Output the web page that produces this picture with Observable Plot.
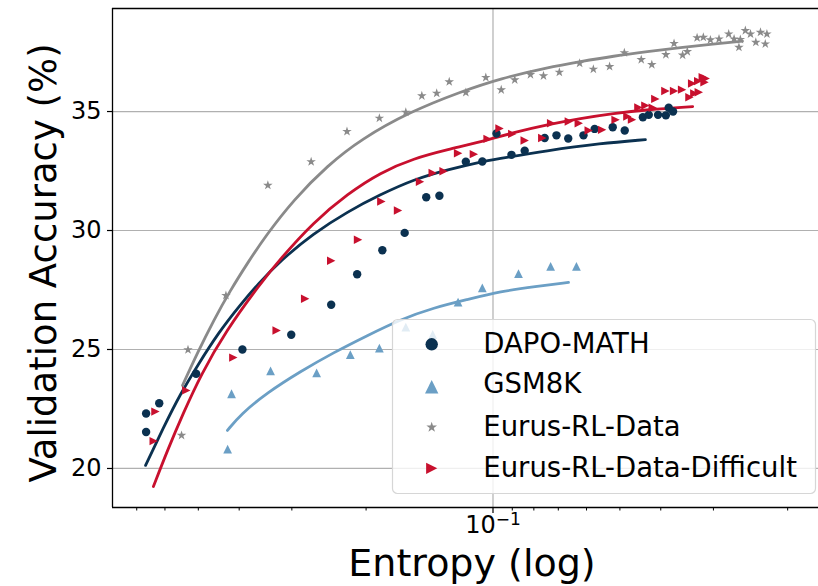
<!DOCTYPE html>
<html><head><meta charset="utf-8">
<script src="https://cdn.jsdelivr.net/npm/d3@7"></script>
<script src="https://cdn.jsdelivr.net/npm/@observablehq/plot@0.6"></script>
<style>
html,body{margin:0;padding:0;background:#fff;}
#chart{width:818px;height:586px;overflow:hidden;}
</style></head><body><div id="chart"></div>
<script>
// ---------- data ----------
const seriesNames = ["DAPO-MATH", "GSM8K", "Eurus-RL-Data", "Eurus-RL-Data-Difficult"];
const seriesColors = ["#0b3150", "#6b9fc5", "#8a8a8a", "#c8102e"];

const dapoX = [0.665,0.665,0.619,0.506,0.393,0.301,0.242,0.210,0.183,0.162,0.144,0.134,0.116,0.106,0.0981,0.0904,0.0841,0.0754,0.0707,0.0663,0.0610,0.0574,0.0520,0.0487,0.0441,0.0427,0.0406,0.0389,0.0383,0.0374];
const dapoY = [21.53,22.31,22.74,23.98,25.00,25.62,26.88,28.16,29.17,29.90,31.40,31.46,32.89,32.90,34.08,33.18,33.35,33.89,34.00,33.87,34.00,34.27,34.34,34.20,34.76,34.86,34.86,34.84,35.16,35.00];

const gsmX = [0.426,0.417,0.337,0.262,0.218,0.186,0.161,0.139,0.121,0.106,0.087,0.0730,0.0634];
const gsmY = [20.81,23.14,24.10,24.02,24.78,25.06,25.94,25.63,26.99,27.59,28.19,28.49,28.49];

const eurusX = [0.548,0.529,0.430,0.342,0.270,0.222,0.186,0.161,0.1475,0.136,0.127,0.116,0.104,0.0956,0.0888,0.0815,0.0759,0.0696,0.0623,0.0578,0.0529,0.0488,0.0445,0.0420,0.0389,0.0372,0.0355,0.0346,0.0328,0.0317,0.0305,0.0291,0.0276,0.0268,0.0261,0.0259,0.0252,0.0245,0.0238,0.0232,0.0226,0.0224];
const eurusY = [21.39,24.99,27.27,31.90,32.89,34.16,34.72,34.97,35.66,35.77,36.25,35.80,36.43,35.91,36.33,36.55,36.50,36.65,37.03,36.78,36.89,37.47,37.18,36.97,37.39,37.86,37.37,37.52,38.10,38.12,38.01,38.05,38.26,38.05,37.70,38.03,38.40,38.26,37.91,38.33,37.84,38.26];

const diffX = [0.638,0.632,0.534,0.413,0.326,0.279,0.242,0.209,0.184,0.168,0.149,0.139,0.131,0.121,0.111,0.103,0.0965,0.0900,0.0841,0.0764,0.0728,0.0661,0.0626,0.0593,0.0551,0.0512,0.0480,0.0468,0.0452,0.0435,0.0418,0.0412,0.0390,0.0372,0.0356,0.0342,0.0333,0.0325,0.0337,0.0326,0.0318,0.0315,0.0313];
const diffY = [21.15,22.39,23.28,24.66,25.80,27.13,28.73,29.61,31.22,30.84,32.05,32.42,32.49,33.25,33.21,33.85,34.29,34.06,33.78,33.89,34.51,34.58,34.51,34.20,34.23,34.65,34.79,34.66,35.17,35.25,35.16,35.53,35.86,35.86,35.92,35.60,35.76,35.81,36.18,36.28,36.44,36.23,36.39];

// fitted curves
const dapoFitX = [0.667,0.605,0.551,0.502,0.448,0.397,0.362,0.319,0.267,0.221,0.185,0.154,0.128,0.106,0.0997,0.0742,0.0556,0.0435];
const dapoFitY = [20.13,21.72,23.15,24.33,25.71,26.89,27.73,28.74,29.87,30.80,31.51,32.15,32.56,32.90,32.98,33.36,33.66,33.82];
const gsmFitX = [0.4265,0.397,0.343,0.286,0.239,0.1985,0.166,0.138,0.115,0.0960,0.0793,0.0662];
const gsmFitY = [21.60,22.27,23.19,24.08,24.87,25.59,26.26,26.76,27.10,27.44,27.65,27.82];
const eurusFitX = [0.545,0.502,0.460,0.420,0.380,0.347,0.297,0.247,0.206,0.157,0.119,0.0960,0.0742,0.0620,0.0518,0.0430,0.0359,0.0300,0.0256];
const eurusFitY = [23.49,24.87,26.22,27.48,28.70,29.75,31.30,32.73,33.83,35.00,35.84,36.39,36.85,37.10,37.33,37.52,37.69,37.84,37.96];
const diffFitX = [0.639,0.592,0.542,0.494,0.431,0.356,0.319,0.267,0.221,0.185,0.154,0.128,0.106,0.0894,0.0742,0.0620,0.0518,0.0430,0.0336];
const diffFitY = [19.24,20.76,22.35,23.91,25.76,27.78,28.82,30.34,31.55,32.44,33.03,33.40,33.74,34.12,34.45,34.71,34.92,35.08,35.21];

const xMajorTicks = [0.1];
const xMajorLabels = [["10", "\u22121"]]; // base, exponent
const xMinorTicks = [0.7,0.6,0.5,0.4,0.3,0.2,0.09,0.08,0.07,0.06,0.05,0.04,0.03,0.02];
const yTicks = [20, 25, 30, 35];
const xDomain = [0.799, 0.0169];
const yDomain = [18.36, 39.33];

// ---------- build ----------
const zip = (xs, ys) => xs.map((x, i) => ({x, y: ys[i]}));
const dapo = zip(dapoX, dapoY), gsm = zip(gsmX, gsmY), eurus = zip(eurusX, eurusY), diff = zip(diffX, diffY);
const dapoFit = zip(dapoFitX, dapoFitY), gsmFit = zip(gsmFitX, gsmFitY), eurusFit = zip(eurusFitX, eurusFitY), diffFit = zip(diffFitX, diffFitY);

const triUp = {draw(ctx, size) { const h = Math.sqrt(size / 2); ctx.moveTo(0, -h); ctx.lineTo(h, h); ctx.lineTo(-h, h); ctx.closePath(); }};
const triRight = {draw(ctx, size) { const h = Math.sqrt(size / 2); ctx.moveTo(h, 0); ctx.lineTo(-h, h); ctx.lineTo(-h, -h); ctx.closePath(); }};
const symbols = [d3.symbolCircle, triUp, d3.symbolStar, triRight];

const FONT = "DejaVu Sans";
const lineW = 2.8;
const curve = "basis";

const plot = Plot.plot({
  width: 818, height: 586,
  marginLeft: 112, marginRight: 0, marginTop: 8, marginBottom: 79,
  style: {fontFamily: FONT, fontSize: "24px", color: "#000", background: "#fff"},
  x: {type: "log", domain: xDomain},
  y: {domain: yDomain},
  marks: [
    Plot.gridY(yTicks, {stroke: "#b0b0b0", strokeOpacity: 1, strokeWidth: 1.2}),
    Plot.gridX(xMajorTicks, {stroke: "#b0b0b0", strokeOpacity: 1, strokeWidth: 1.2}),
    Plot.line(dapoFit, {x: "x", y: "y", stroke: seriesColors[0], strokeWidth: lineW, curve}),
    Plot.line(gsmFit, {x: "x", y: "y", stroke: seriesColors[1], strokeWidth: lineW, curve}),
    Plot.line(eurusFit, {x: "x", y: "y", stroke: seriesColors[2], strokeWidth: lineW, curve}),
    Plot.line(diffFit, {x: "x", y: "y", stroke: seriesColors[3], strokeWidth: lineW, curve}),
    Plot.dot(dapo, {x: "x", y: "y", r: 4.2, fill: seriesColors[0], symbol: symbols[0]}),
    Plot.dot(gsm, {x: "x", y: "y", r: 3.5, fill: seriesColors[1], symbol: symbols[1]}),
    Plot.dot(eurus, {x: "x", y: "y", r: 3.0, fill: seriesColors[2], symbol: symbols[2]}),
    Plot.dot(diff, {x: "x", y: "y", r: 3.35, fill: seriesColors[3], symbol: symbols[3]}),
    Plot.ruleY([yDomain[1]], {stroke: "#000", strokeWidth: 1.3}),
    Plot.ruleY([yDomain[0]], {stroke: "#000", strokeWidth: 1.3}),
    Plot.ruleX([xDomain[0]], {stroke: "#000", strokeWidth: 1.3}),
    Plot.axisY(yTicks, {tickSize: 5, tickPadding: 6, label: null, fontSize: 24, strokeWidth: 1.2}),
    Plot.axisX(xMajorTicks, {tickSize: 6, tickPadding: 2, label: null, fontSize: 24, strokeWidth: 1.2,
      tickFormat: (d) => "MAJOR" + xMajorTicks.indexOf(d)}),
    Plot.axisX(xMinorTicks, {tickSize: 3.5, label: null, strokeWidth: 1, tickFormat: () => ""})
  ]
});

document.getElementById("chart").appendChild(plot);
const svg = d3.select(plot);

// superscript exponent labels for the major x ticks
svg.selectAll("text").each(function() {
  const t = d3.select(this);
  const s = t.text();
  if (s.startsWith("MAJOR")) {
    const [base, exp] = xMajorLabels[+s.slice(5)];
    t.text("");
    t.append("tspan").text(base);
    t.append("tspan").attr("dy", "-0.45em").style("font-size", "17px").text(exp);
  }
});

// axis titles
svg.append("text").attr("x", 472).attr("y", 576).attr("text-anchor", "middle")
  .attr("fill", "#000").style("font-family", FONT).style("font-size", "38px").text("Entropy (log)");
svg.append("text").attr("transform", "translate(56,263) rotate(-90)").attr("text-anchor", "middle")
  .attr("fill", "#000").style("font-family", FONT).style("font-size", "37px").text("Validation Accuracy (%)");

// legend
const lg = svg.append("g");
lg.append("rect").attr("x", 392.5).attr("y", 319.5).attr("width", 423).attr("height", 174).attr("rx", 5)
  .attr("fill", "#fff").attr("fill-opacity", 0.8).attr("stroke", "#d6d6d6").attr("stroke-width", 1.2);
const legendSizes = [Math.PI * 6.2 * 6.2, 2 * 6.7 * 6.7, 5.6 * 5.6 / 0.8908, 2 * 5.6 * 5.6];
const markerY = [344.3, 386.7, 427.3, 468.3];
const textY = [352.7, 393.3, 436, 476.7];
seriesNames.forEach((name, i) => {
  lg.append("path").attr("d", d3.symbol(symbols[i], legendSizes[i])())
    .attr("transform", `translate(431.7,${markerY[i]})`).attr("fill", seriesColors[i]);
  lg.append("text").attr("x", 483.3).attr("y", textY[i]).attr("text-anchor", "start")
    .attr("fill", "#000").style("font-family", FONT).style("font-size", "27.5px").text(name);
});
</script>
</body></html>
